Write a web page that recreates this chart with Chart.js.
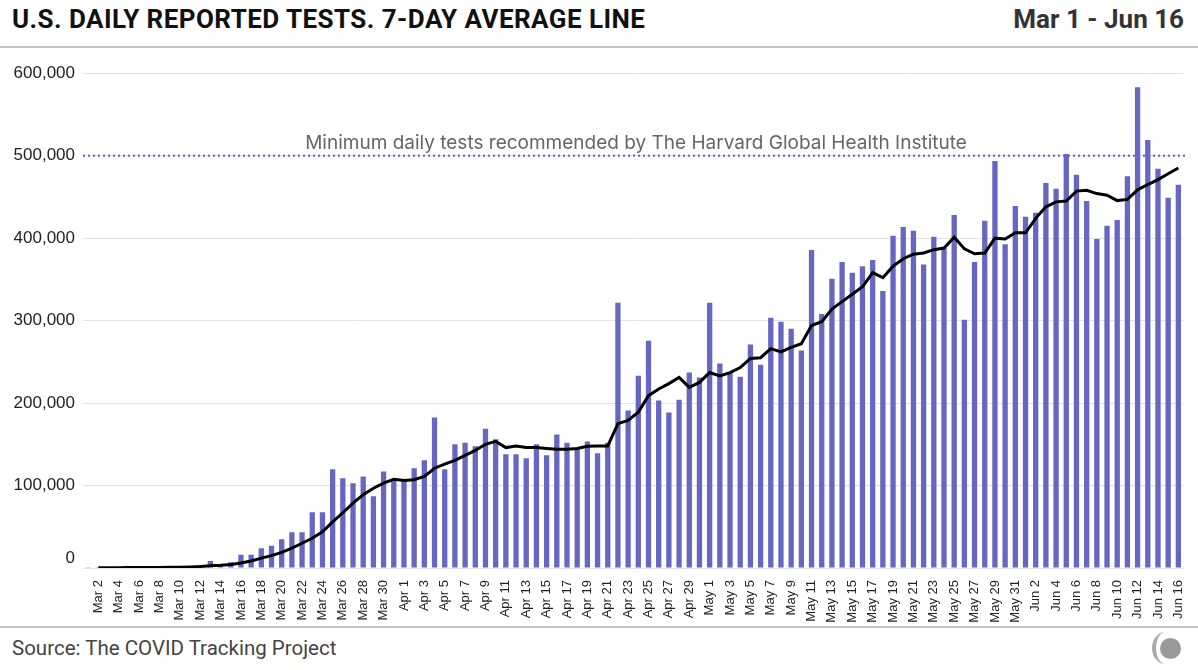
<!DOCTYPE html>
<html lang="en">
<head>
    <meta charset="UTF-8">
    <title>U.S. Daily Reported Tests</title>
    <script src="https://cdn.jsdelivr.net/npm/chart.js"></script>
    <style>
        body {
            margin: 0;
            width: 1198px;
            height: 670px;
            background: #fff;
            font-family: Roboto, "Liberation Sans", sans-serif;
            position: relative;
            overflow: hidden;
        }
        .title {
            position: absolute;
            left: 12px;
            top: 4px;
            font-size: 26px;
            font-weight: bold;
            letter-spacing: 0.45px;
            color: #111;
        }
        .range {
            position: absolute;
            right: 14px;
            top: 4px;
            font-size: 26px;
            font-weight: bold;
            color: #333;
        }
        .rule {
            position: absolute;
            left: 0;
            width: 1198px;
            height: 2px;
            background: #c4c4c4;
        }
        .source {
            position: absolute;
            left: 12px;
            top: 636px;
            font-size: 20.5px;
            color: #444;
        }
        .chart-box {
            position: absolute;
            left: 0;
            top: 55px;
            width: 1198px;
            height: 570px;
        }
        /* little logo bottom right */
        .logo-ring {
            position: absolute;
            left: 1152px;
            top: 632px;
            width: 26px;
            height: 32px;
            border-radius: 50%;
            border-left: 4px solid #aaa;
            box-sizing: border-box;
        }
        .logo-dot {
            position: absolute;
            left: 1160px;
            top: 638px;
            width: 21px;
            height: 21px;
            border-radius: 50%;
            background: #999;
        }
    </style>
</head>
<body>
    <div class="title">U.S. DAILY REPORTED TESTS. 7-DAY AVERAGE LINE</div>
    <div class="range">Mar 1 - Jun 16</div>
    <div class="rule" style="top:46px"></div>
    <div class="chart-box">
        <canvas id="testsChart"></canvas>
    </div>
    <div class="rule" style="top:626px"></div>
    <div class="source">Source: The COVID Tracking Project</div>
    <div class="logo-ring"></div>
    <div class="logo-dot"></div>
    <script>
        const dayLabels = [
            'Mar 1', 'Mar 2', 'Mar 3', 'Mar 4', 'Mar 5', 'Mar 6', 'Mar 7', 'Mar 8', 'Mar 9', 'Mar 10',
            'Mar 11', 'Mar 12', 'Mar 13', 'Mar 14', 'Mar 15', 'Mar 16', 'Mar 17', 'Mar 18', 'Mar 19', 'Mar 20',
            'Mar 21', 'Mar 22', 'Mar 23', 'Mar 24', 'Mar 25', 'Mar 26', 'Mar 27', 'Mar 28', 'Mar 29', 'Mar 30', 'Mar 31',
            'Apr 1', 'Apr 2', 'Apr 3', 'Apr 4', 'Apr 5', 'Apr 6', 'Apr 7', 'Apr 8', 'Apr 9', 'Apr 10',
            'Apr 11', 'Apr 12', 'Apr 13', 'Apr 14', 'Apr 15', 'Apr 16', 'Apr 17', 'Apr 18', 'Apr 19', 'Apr 20',
            'Apr 21', 'Apr 22', 'Apr 23', 'Apr 24', 'Apr 25', 'Apr 26', 'Apr 27', 'Apr 28', 'Apr 29', 'Apr 30',
            'May 1', 'May 2', 'May 3', 'May 4', 'May 5', 'May 6', 'May 7', 'May 8', 'May 9', 'May 10',
            'May 11', 'May 12', 'May 13', 'May 14', 'May 15', 'May 16', 'May 17', 'May 18', 'May 19', 'May 20',
            'May 21', 'May 22', 'May 23', 'May 24', 'May 25', 'May 26', 'May 27', 'May 28', 'May 29', 'May 30', 'May 31',
            'Jun 1', 'Jun 2', 'Jun 3', 'Jun 4', 'Jun 5', 'Jun 6', 'Jun 7', 'Jun 8', 'Jun 9', 'Jun 10',
            'Jun 11', 'Jun 12', 'Jun 13', 'Jun 14', 'Jun 15', 'Jun 16'
        ];

        // daily tests
        const dailyTests = [
            200, 300, 400, 500, 600, 700, 900, 1000, 1200, 1500,
            2400, 3600, 8500, 4500, 7000, 16000, 16000, 24000, 27000, 35000,
            43500, 43500, 67700, 67700, 119700, 108800, 102800, 111000, 87000, 117000, 107000,
            105000, 121000, 130600, 182600, 119700, 150000, 152000, 147500, 169000, 156000,
            138000, 138000, 133000, 150000, 136600, 162000, 152000, 144000, 153500, 139000,
            152000, 321600, 191000, 233000, 275600, 203000, 188600, 204000, 237000, 231000,
            321600, 248000, 237000, 232000, 271000, 246600, 303500, 298600, 290000, 263600,
            385700, 308000, 350600, 371000, 358000, 366000, 373600, 336000, 403000, 413600,
            409000, 368000, 401800, 388000, 428000, 301000, 371000, 421000, 493500, 392500, 439000,
            426000, 430700, 467000, 460000, 502000, 477000, 445000, 399000, 415000, 422000,
            475000, 583000, 519000, 484000, 449000, 464600
        ];

        // 7-day average line
        const weekAverage = [
            null, 300, 350, 400, 500, 550, 650, 750, 850, 1000,
            1300, 1800, 2800, 3300, 4300, 6000, 8500, 12000, 15000, 19000,
            24000, 30000, 36000, 44000, 56000, 67000, 78600, 89000, 96700, 103000, 107600,
            106000, 107000, 111000, 121000, 126000, 130600, 136600, 142700, 150000, 153500,
            146000, 148000, 146000, 146000, 145000, 144000, 144000, 145000, 147500, 148000,
            148000, 175000, 179000, 189000, 209000, 217000, 223600, 231000, 219000, 225000,
            237000, 233000, 237000, 243000, 254000, 255000, 266000, 262000, 267600, 272000,
            294000, 298600, 314000, 323000, 332000, 341000, 358000, 352000, 366000, 375000,
            380500, 382000, 386000, 388000, 401000, 387000, 381000, 382000, 400000, 399000, 406500,
            406500, 424000, 438000, 444000, 445000, 457000, 458000, 454000, 452000, 445500,
            447000, 458600, 465000, 471000, 478000, 485000
        ];

        const yTicks = [0, 100000, 200000, 300000, 400000, 500000, 600000];
        const harvardMinimum = 500000;
        const harvardNote = 'Minimum daily tests recommended by The Harvard Global Health Institute';

        const barColor = '#6667c0';

        // dotted target line + its note, and the lifted "0" label
        const extrasPlugin = {
            id: 'extras',
            beforeDatasetsDraw(chart) {
                const { ctx, chartArea, scales } = chart;
                const y = scales.y.getPixelForValue(harvardMinimum);
                ctx.save();
                ctx.fillStyle = '#5a5ccc';
                for (let x = chartArea.left; x < chartArea.right; x += 5) {
                    ctx.fillRect(x, y - 1, 2, 2);
                }
                ctx.font = '19px Inter';
                ctx.fillStyle = '#666';
                ctx.textAlign = 'center';
                ctx.textBaseline = 'bottom';
                ctx.fillText(harvardNote, 636, y - 3);
                ctx.restore();
            },
            afterDraw(chart) {
                const { ctx, scales } = chart;
                const y0 = scales.y.getPixelForValue(0);
                ctx.save();
                ctx.font = '17px "Liberation Sans"';
                ctx.fillStyle = '#222';
                ctx.textAlign = 'right';
                ctx.textBaseline = 'middle';
                ctx.fillText('0', scales.y.right - 8, y0 - 10);
                ctx.restore();
            }
        };

        new Chart(document.getElementById('testsChart').getContext('2d'), {
            data: {
                labels: dayLabels,
                datasets: [
                    {
                        type: 'line',
                        label: '7-day average',
                        data: weekAverage,
                        borderColor: '#000',
                        borderWidth: 3,
                        pointRadius: 0,
                        tension: 0,
                        fill: false,
                        order: 0
                    },
                    {
                        type: 'bar',
                        label: 'Daily tests',
                        data: dailyTests,
                        backgroundColor: barColor,
                        categoryPercentage: 1,
                        barPercentage: 0.52,
                        order: 1
                    }
                ]
            },
            options: {
                responsive: true,
                maintainAspectRatio: false,
                animation: false,
                layout: { padding: { top: 7, right: 10, left: 0, bottom: 0 } },
                plugins: {
                    legend: { display: false },
                    tooltip: { enabled: false }
                },
                scales: {
                    x: {
                        offset: true,
                        grid: { display: false },
                        border: { display: false },
                        ticks: {
                            autoSkip: false,
                            maxRotation: 90,
                            minRotation: 90,
                            color: '#222',
                            padding: 4,
                            font: { family: '"Liberation Sans"', size: 13 },
                            callback: (v, i) => (i % 2 === 1 ? dayLabels[i] : '')
                        },
                        afterFit: (scale) => { scale.height = 57; }
                    },
                    y: {
                        min: 0,
                        max: 600000,
                        afterBuildTicks: (scale) => {
                            scale.ticks = yTicks.map(v => ({ value: v }));
                        },
                        grid: {
                            color: '#e3e3e3',
                            lineWidth: 1,
                            drawTicks: false
                        },
                        border: { display: false },
                        ticks: {
                            color: '#222',
                            padding: 8,
                            font: { family: '"Liberation Sans"', size: 17 },
                            callback: (v) => (v === 0 ? '' : v.toLocaleString('en-US'))
                        },
                        afterFit: (scale) => { scale.width = 83; }
                    }
                }
            },
            plugins: [extrasPlugin]
        });
    </script>
</body>
</html>
